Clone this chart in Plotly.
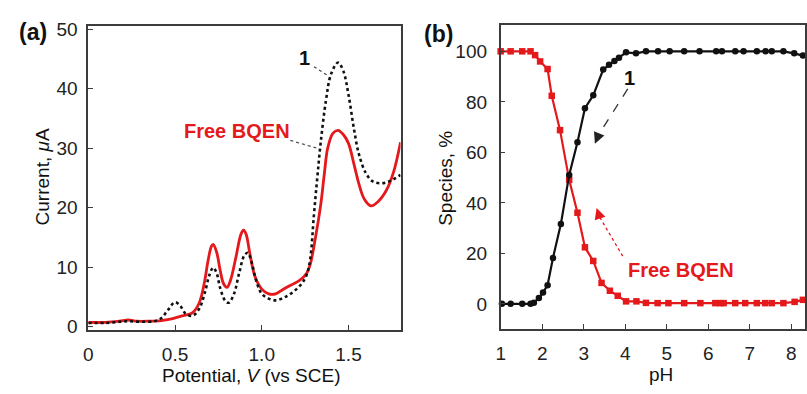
import plotly.graph_objects as go

# ---- (a) differential pulse voltammograms ----
pot_free = [0.00, 0.10, 0.18, 0.23, 0.28, 0.35, 0.42, 0.48, 0.54, 0.60, 0.64, 0.67,
            0.69, 0.71, 0.72, 0.74, 0.76, 0.78, 0.80, 0.82, 0.85, 0.88, 0.895, 0.91,
            0.93, 0.96, 1.00, 1.04, 1.08, 1.12, 1.17, 1.22, 1.26, 1.28, 1.31, 1.34,
            1.36, 1.38, 1.41, 1.44, 1.47, 1.50, 1.53, 1.56, 1.59, 1.63, 1.67, 1.72,
            1.76, 1.80]
cur_free = [0.7, 0.7, 0.9, 1.1, 0.9, 0.9, 1.0, 1.3, 1.8, 2.3, 4.0, 7.5,
            11.0, 13.5, 13.8, 12.5, 9.5, 7.2, 6.6, 7.8, 11.5, 15.5, 16.2, 15.5,
            12.5, 8.5, 6.3, 5.5, 5.5, 6.2, 7.0, 7.8, 9.0, 10.5, 15.0, 20.5,
            25.5, 30.0, 32.5, 33.0, 32.3, 30.8, 27.5, 24.0, 21.5, 20.3, 21.0, 23.0,
            26.0, 31.0]

pot_cplx = [0.00, 0.10, 0.18, 0.23, 0.30, 0.38, 0.42, 0.46, 0.50, 0.53, 0.56, 0.60,
            0.64, 0.67, 0.70, 0.72, 0.74, 0.76, 0.79, 0.81, 0.84, 0.87, 0.90, 0.92,
            0.94, 0.97, 1.00, 1.04, 1.08, 1.13, 1.18, 1.23, 1.26, 1.28, 1.30, 1.32,
            1.34, 1.37, 1.40, 1.44, 1.47, 1.50, 1.53, 1.56, 1.60, 1.64, 1.69, 1.74,
            1.80]
cur_cplx = [0.6, 0.6, 0.8, 0.9, 0.8, 0.9, 1.4, 2.8, 4.1, 3.5, 2.2, 1.8,
            3.0, 5.5, 8.8, 9.9, 9.0, 6.5, 4.3, 4.0, 5.5, 9.0, 12.0, 12.4,
            11.0, 7.5, 5.5, 4.7, 4.4, 4.9, 5.8, 7.2, 8.8, 11.5, 18.5, 25.0,
            31.0, 38.0, 42.5, 44.4, 43.0, 39.0, 33.5, 29.0, 25.8, 24.4, 24.1, 24.5,
            25.5]

# ---- (b) species distribution vs pH ----
ph_cplx = [1.03, 1.24, 1.52, 1.72, 1.80, 1.92, 2.02, 2.13, 2.26, 2.45, 2.65, 2.85,
           3.03, 3.23, 3.47, 3.61, 3.74, 3.85, 4.02, 4.26, 4.50, 4.79, 5.07, 5.42,
           5.79, 6.19, 6.33, 6.65, 6.85, 7.17, 7.38, 7.53, 7.81, 8.07, 8.28]
sp_cplx = [0, 0, 0, 0, 0.4, 2.3, 4.5, 7.4, 18.2, 31.6, 51.0, 64.0,
           77.5, 82.6, 92.8, 94.7, 96.2, 97.5, 99.6, 99.2, 100, 100, 100, 100,
           100, 100, 100, 100, 100, 100, 100, 100, 100, 99.2, 98.3]

ph_free = [1.00, 1.24, 1.52, 1.72, 1.83, 1.95, 2.13, 2.23, 2.43, 2.65, 2.85, 3.03,
           3.23, 3.43, 3.63, 3.82, 4.02, 4.27, 4.50, 4.78, 5.04, 5.42, 5.81, 6.17,
           6.29, 6.37, 6.65, 6.89, 7.17, 7.37, 7.53, 7.81, 8.08, 8.28]
sp_free = [100, 100, 100, 100, 98.5, 96.0, 93.0, 82.4, 68.8, 49.1, 36.1, 22.4,
           17.0, 8.3, 5.2, 3.2, 1.0, 1.0, 0.4, 0.3, 0.3, 0.3, 0.3, 0.3,
           0.3, 0.3, 0.3, 0.3, 0.3, 0.3, 0.3, 0.3, 0.8, 1.6]

RED = "#e4191c"
BLK = "#111111"
AX = "#3c3c3c"
FONT = "Liberation Sans, Arial, sans-serif"
FS = 19

fig = go.Figure()
fig.add_trace(go.Scatter(x=pot_free, y=cur_free, mode="lines", line_shape="spline",
                         line=dict(color=RED, width=2.8), xaxis="x", yaxis="y"))
fig.add_trace(go.Scatter(x=pot_cplx, y=cur_cplx, mode="lines", line_shape="spline",
                         line=dict(color=BLK, width=2.6, dash="dot"), xaxis="x", yaxis="y"))
fig.add_trace(go.Scatter(x=ph_free, y=sp_free, mode="lines+markers",
                         line=dict(color=RED, width=2.2),
                         marker=dict(symbol="square", size=6.5, color=RED),
                         xaxis="x2", yaxis="y2", cliponaxis=False))
fig.add_trace(go.Scatter(x=ph_cplx, y=sp_cplx, mode="lines+markers",
                         line=dict(color=BLK, width=2.2),
                         marker=dict(symbol="circle", size=6.5, color=BLK),
                         xaxis="x2", yaxis="y2", cliponaxis=False))

axis_common = dict(showline=True, linecolor=AX, linewidth=1.6, mirror=True,
                   ticks="inside", ticklen=5, tickwidth=1.4, tickcolor=AX,
                   showgrid=False, zeroline=False,
                   tickfont=dict(family=FONT, size=FS, color="#222"))

fig.update_layout(
    width=807, height=394, margin=dict(l=0, r=0, t=0, b=0),
    paper_bgcolor="white", plot_bgcolor="white", showlegend=False,
    xaxis=dict(domain=[84/807, 399/807], range=[0, 1.8], tickvals=[0, 0.5, 1.0, 1.5],
               ticktext=["0", "0.5", "1.0", "1.5"], anchor="y",
               ticklabelstandoff=6, **axis_common),
    yaxis=dict(domain=[59/394, 374/394], range=[-0.6, 50.5], tickvals=[0, 10, 20, 30, 40, 50],
               anchor="x", ticklabelstandoff=5, **axis_common),
    xaxis2=dict(domain=[500/807, 1.0], range=[1, 8.33], tickvals=list(range(1, 9)),
                anchor="y2", ticklabelstandoff=6, **axis_common),
    yaxis2=dict(domain=[60/394, 375/394], range=[-10, 110.3], tickvals=[0, 20, 40, 60, 80, 100],
                anchor="x2", ticklabelstandoff=8, **axis_common),
)

def paper_x(px):
    return px / 807

def paper_y(py):
    return 1 - py / 394

notes = [
    # panel letters
    dict(text="<b>(a)</b>", x=paper_x(28), y=paper_y(26), size=23),
    dict(text="<b>(b)</b>", x=paper_x(437), y=paper_y(28), size=23),
    # axis titles
    dict(text="Current, <i>μ</i>A", x=paper_x(38), y=paper_y(176), textangle=-90, size=FS),
    dict(text="Potential, <i>V</i> (vs SCE)", x=paper_x(248), y=paper_y(382.5), size=FS),
    dict(text="Species, %", x=paper_x(445), y=paper_y(178), textangle=-90, size=FS),
    dict(text="pH", x=paper_x(662), y=paper_y(381.5), size=FS),
]
for n in notes:
    fig.add_annotation(text=n["text"], x=n["x"], y=n["y"], xref="paper", yref="paper",
                       showarrow=False, textangle=n.get("textangle", 0), borderpad=0,
                       font=dict(family=FONT, size=n["size"], color="#111"),
                       xanchor="center", yanchor="middle")

# series labels, panel (a)
fig.add_annotation(text="<b>1</b>", x=1.244, y=45.1, xref="x", yref="y", showarrow=False,
                   font=dict(family=FONT, size=20, color="#111"))
fig.add_annotation(text="<b>Free BQEN</b>", x=0.859, y=32.9, xref="x", yref="y", showarrow=False,
                   font=dict(family=FONT, size=20, color=RED))
fig.add_shape(type="line", xref="x", yref="y", x0=1.301, y0=43.7, x1=1.387, y1=42.1,
              line=dict(color="#444", width=1.2, dash="dot"))
fig.add_shape(type="line", xref="x", yref="y", x0=1.165, y0=31.3, x1=1.33, y1=29.9,
              line=dict(color="#444", width=1.2, dash="dot"))

# series labels, panel (b)
fig.add_annotation(text="<b>1</b>", x=4.10, y=89.6, xref="x2", yref="y2", showarrow=False,
                   font=dict(family=FONT, size=20, color="#111"))
fig.add_annotation(text="<b>Free BQEN</b>", x=5.34, y=13.3, xref="x2", yref="y2", showarrow=False,
                   font=dict(family=FONT, size=20, color=RED))
fig.add_shape(type="line", xref="x2", yref="y2", x0=4.06, y0=85.1, x1=3.36, y1=67.0,
              line=dict(color="#333", width=1.3, dash="dash"))
fig.add_annotation(x=3.27, y=63.4, xref="x2", yref="y2", ax=3.38, ay=67.8,
                   axref="x2", ayref="y2", text="", showarrow=True,
                   arrowhead=2, arrowsize=1.6, arrowwidth=1.4, arrowcolor="#222")
fig.add_shape(type="line", xref="x2", yref="y2", x0=3.94, y0=18.9, x1=3.38, y1=34.5,
              line=dict(color=RED, width=1.3, dash="dot"))
fig.add_annotation(x=3.31, y=38.0, xref="x2", yref="y2", ax=3.40, ay=33.5,
                   axref="x2", ayref="y2", text="", showarrow=True,
                   arrowhead=2, arrowsize=1.6, arrowwidth=1.4, arrowcolor=RED)

fig.write_html("out.html")
